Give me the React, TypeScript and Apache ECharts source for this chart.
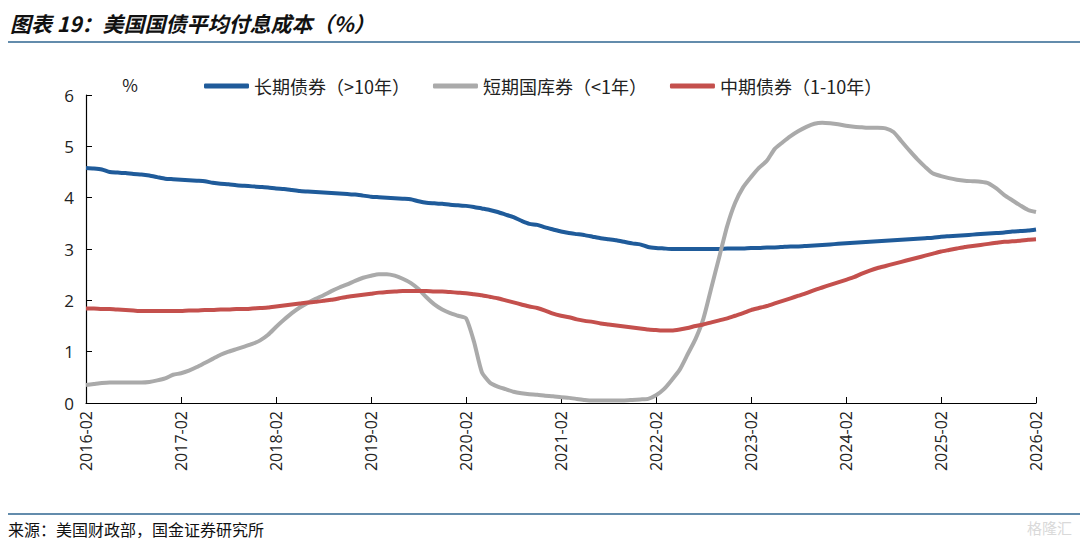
import React, { useEffect, useRef } from "react";
import * as echarts from "echarts";

const startYear = 2016;
const months: string[] = [];
for (let i = 0; i <= 120; i++) {
  const y = startYear + Math.floor((i + 1) / 12);
  const m = ((i + 1) % 12) + 1;
  months.push(`${y}-${m < 10 ? "0" + m : m}`);
}

const longTerm = [
  4.58, 4.57, 4.55, 4.50, 4.49, 4.48, 4.46, 4.45, 4.43, 4.40, 4.37, 4.36,
  4.35, 4.34, 4.33, 4.32, 4.29, 4.27, 4.26, 4.24, 4.23, 4.22, 4.21, 4.20,
  4.18, 4.17, 4.15, 4.13, 4.12, 4.11, 4.10, 4.09, 4.08, 4.07, 4.06, 4.04,
  4.02, 4.01, 4.00, 3.99, 3.98, 3.97, 3.93, 3.90, 3.89, 3.88, 3.86, 3.85,
  3.84, 3.82, 3.79, 3.76, 3.72, 3.67, 3.62, 3.55, 3.49, 3.47, 3.42, 3.38,
  3.34, 3.31, 3.29, 3.27, 3.24, 3.21, 3.19, 3.17, 3.14, 3.11, 3.09, 3.04,
  3.02, 3.01, 3.00, 3.00, 3.00, 3.00, 3.00, 3.00, 3.00, 3.01, 3.01, 3.01,
  3.02, 3.02, 3.03, 3.03, 3.04, 3.05, 3.05, 3.06, 3.07, 3.08, 3.09, 3.10,
  3.11, 3.12, 3.13, 3.14, 3.15, 3.16, 3.17, 3.18, 3.19, 3.20, 3.21, 3.22,
  3.24, 3.25, 3.26, 3.27, 3.28, 3.29, 3.30, 3.31, 3.32, 3.34, 3.35, 3.36,
  3.38,
];

const shortTerm = [
  0.35, 0.37, 0.39, 0.40, 0.40, 0.40, 0.40, 0.40, 0.41, 0.44, 0.48, 0.55,
  0.58, 0.63, 0.70, 0.78, 0.86, 0.94, 1.00, 1.05, 1.10, 1.15, 1.22, 1.33,
  1.48, 1.62, 1.75, 1.86, 1.95, 2.03, 2.10, 2.18, 2.25, 2.31, 2.38, 2.44,
  2.48, 2.51, 2.51, 2.48, 2.42, 2.34, 2.22, 2.06, 1.92, 1.82, 1.75, 1.70,
  1.65, 1.20, 0.60, 0.40, 0.32, 0.27, 0.22, 0.19, 0.17, 0.16, 0.14, 0.13,
  0.11, 0.10, 0.08, 0.06, 0.05, 0.05, 0.05, 0.05, 0.05, 0.06, 0.07, 0.08,
  0.15, 0.27, 0.45, 0.65, 0.95, 1.25, 1.65, 2.25, 2.85, 3.45, 3.90, 4.20,
  4.40, 4.58, 4.72, 4.95, 5.08, 5.20, 5.30, 5.38, 5.44, 5.46, 5.45, 5.43,
  5.40, 5.38, 5.37, 5.36, 5.36, 5.35, 5.28, 5.10, 4.92, 4.75, 4.60, 4.47,
  4.42, 4.38, 4.35, 4.33, 4.32, 4.31, 4.28, 4.18, 4.05, 3.95, 3.85, 3.76,
  3.72,
];

const midTerm = [
  1.84, 1.84, 1.83, 1.83, 1.82, 1.81, 1.80, 1.79, 1.79, 1.79, 1.79, 1.79,
  1.79, 1.80, 1.80, 1.81, 1.81, 1.82, 1.82, 1.83, 1.83, 1.84, 1.85, 1.86,
  1.88, 1.90, 1.92, 1.94, 1.96, 1.97, 1.99, 2.01, 2.04, 2.07, 2.09, 2.11,
  2.13, 2.15, 2.16, 2.17, 2.18, 2.18, 2.18, 2.18, 2.17, 2.17, 2.16, 2.15,
  2.14, 2.12, 2.10, 2.07, 2.04, 2.00, 1.96, 1.92, 1.88, 1.85, 1.80, 1.74,
  1.70, 1.67, 1.63, 1.60, 1.58, 1.55, 1.53, 1.51, 1.49, 1.47, 1.45, 1.43,
  1.42, 1.41, 1.41, 1.43, 1.46, 1.50, 1.53, 1.57, 1.61, 1.65, 1.70, 1.75,
  1.81, 1.85, 1.89, 1.94, 1.99, 2.04, 2.09, 2.14, 2.20, 2.25, 2.30, 2.35,
  2.40, 2.45, 2.52, 2.58, 2.63, 2.67, 2.71, 2.75, 2.79, 2.83, 2.87, 2.91,
  2.95, 2.98, 3.01, 3.04, 3.06, 3.08, 3.10, 3.12, 3.14, 3.15, 3.16, 3.18,
  3.19,
];

const seriesNames = ["长期债券（>10年）", "短期国库券（<1年）", "中期债券（1-10年）"];
const seriesColors = ["#1f5b9a", "#aaaaaa", "#c4504d"];
const titleText = "图表 19：美国国债平均付息成本（%）";
const sourceText = "来源：美国财政部，国金证券研究所";

export default function App() {
  const ref = useRef<HTMLDivElement>(null);
  useEffect(() => {
    document.body.style.margin = "0";
    const chart = echarts.init(ref.current!, null, { renderer: "svg" });
    const sans = "'Noto Sans CJK SC', 'Noto Sans', sans-serif";
    chart.setOption({
      animation: false,
      backgroundColor: "#ffffff",
      textStyle: { fontFamily: sans },
      title: {
        text: titleText,
        left: 5,
        top: 7,
        textStyle: {
          fontSize: 21,
          fontWeight: "bold",
          fontStyle: "italic",
          color: "#111",
          fontFamily: sans,
        },
      },
      graphic: [
        { type: "line", shape: { x1: 8, y1: 42, x2: 1080, y2: 42 }, style: { stroke: "#2f6690", lineWidth: 1.5 } },
        { type: "line", shape: { x1: 8, y1: 514, x2: 1080, y2: 514 }, style: { stroke: "#2f6690", lineWidth: 1.5 } },
        {
          type: "text",
          left: 8,
          top: 521,
          style: { text: sourceText, fontSize: 16, fill: "#111", fontFamily: sans },
        },
        {
          type: "text",
          right: 8,
          top: 520,
          style: { text: "格隆汇", fontSize: 15, fill: "#d9d9d9", fontFamily: sans },
        },
      ],
      legend: {
        top: 72,
        left: 199,
        itemWidth: 45,
        itemHeight: 5,
        itemGap: 23,
        icon: "roundRect",
        textStyle: { fontSize: 18, color: "#222", fontFamily: sans },
        data: seriesNames,
      },
      grid: { left: 86, right: 44, top: 95, bottom: 140, containLabel: false },
      xAxis: {
        type: "category",
        data: months,
        boundaryGap: false,
        axisLine: { lineStyle: { color: "#000", width: 1.2 } },
        axisTick: {
          inside: true,
          length: 6,
          interval: (i: number) => i % 12 === 0,
          lineStyle: { color: "#000" },
        },
        axisLabel: {
          interval: (i: number) => i % 12 === 0,
          rotate: 90,
          margin: 8,
          fontSize: 16,
          color: "#222",
          fontFamily: "'Open Sans', sans-serif",
        },
        splitLine: { show: false },
      },
      yAxis: {
        type: "value",
        min: 0,
        max: 6,
        interval: 1,
        name: "%",
        nameGap: 2,
        nameTextStyle: { fontSize: 17, color: "#222", padding: [0, 0, 0, 88] },
        axisLine: { show: true, lineStyle: { color: "#000", width: 1.2 } },
        axisTick: { show: true, inside: true, length: 6, lineStyle: { color: "#000" } },
        axisLabel: { fontSize: 17, color: "#222", margin: 12, fontFamily: "'Open Sans', sans-serif" },
        splitLine: { show: false },
      },
      series: [
        { name: seriesNames[0], data: longTerm, color: seriesColors[0] },
        { name: seriesNames[1], data: shortTerm, color: seriesColors[1] },
        { name: seriesNames[2], data: midTerm, color: seriesColors[2] },
      ].map((s) => ({
        ...s,
        type: "line",
        symbol: "none",
        smooth: 0.2,
        lineStyle: { width: 4, color: s.color },
        itemStyle: { color: s.color },
      })),
    });
    return () => chart.dispose();
  }, []);
  return <div ref={ref} style={{ width: 1080, height: 543 }} />;
}
